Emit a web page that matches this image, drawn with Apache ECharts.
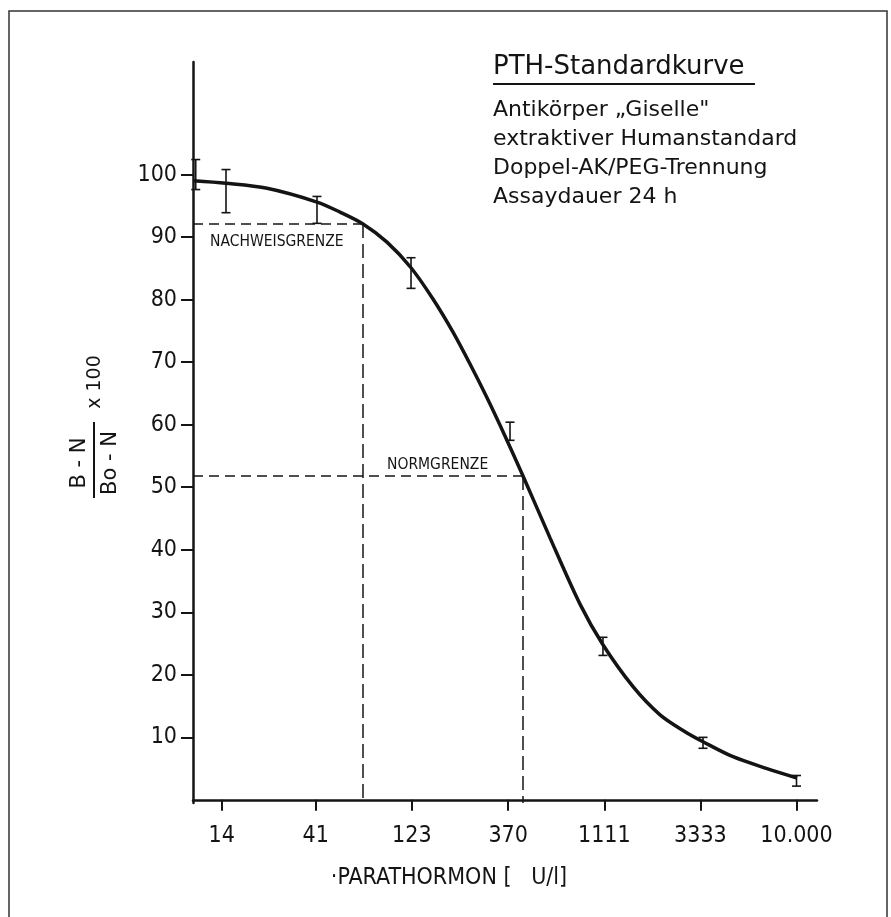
<!DOCTYPE html>
<html>
<head>
<meta charset="utf-8">
<script src="https://cdn.jsdelivr.net/npm/echarts@6/dist/echarts.min.js"></script>
<style>
  html, body { margin: 0; padding: 0; background: #fff; }
  #chart { width: 891px; height: 917px; }
</style>
</head>
<body>
<div id="chart"></div>
<script>
// Kurve - Konzentration in U/l und (B-N)/(Bo-N) x 100
var curveX = [10.1, 14.7, 23.5, 41.6, 54.1, 70.4, 92.6, 121.9, 156.7, 197, 239.3, 290.6, 356.9, 438.6, 597.2, 841.4, 1094, 1543, 2101, 2795, 3434, 4838, 7136, 10060];
var curveY = [99.0, 98.6, 97.8, 95.6, 94.0, 92.1, 89.2, 85.1, 80.1, 74.8, 69.7, 64.3, 58.2, 51.8, 41.9, 31.3, 24.8, 18.1, 13.6, 10.9, 9.3, 6.9, 5.0, 3.5];

// Fehlerbalken der Standards
var errX = [10.4, 14.7, 41.6, 121.9, 378, 1094, 3434, 10000];
var errLow = [97.6, 93.9, 92.2, 81.8, 57.5, 23.1, 8.25, 2.2];
var errHigh = [102.4, 100.8, 96.5, 86.7, 60.4, 26.0, 10.0, 3.9];

// Achsen
var xTickValues = [14, 41, 123, 370, 1111, 3333, 10000];
var xTickLabels = ['14', '41', '123', '370', '1111', '3333', '10.000'];
var yTickValues = [10, 20, 30, 40, 50, 60, 70, 80, 90, 100];

// Grenzen: [Konzentration, Prozent]
var nachweisgrenze = [70.4, 92.1];
var normgrenze = [438.6, 51.8];

var xMin = 10.08, xMax = 12640;
var yMin = -0.5, yMax = 118;

var ink = '#141414';
var narrow = "'DejaVu Sans Condensed', 'DejaVu Sans', sans-serif";
var wide = "'DejaVu Sans', sans-serif";

var curveData = curveX.map(function (x, i) { return [x, curveY[i]]; });
var errData = errX.map(function (x, i) { return [x, errLow[i], errHigh[i]]; });

var chart = echarts.init(document.getElementById('chart'));

function limitLines(p) {
	return [
		[{ coord: [xMin, p[1]], lineStyle: { type: [10, 6], width: 1.5, color: ink } }, { coord: [p[0], p[1]] }],
		[{ coord: [p[0], p[1]], lineStyle: { type: [14, 6], width: 1.5, color: ink } }, { coord: [p[0], yMin] }]
	];
}

var option = {
	backgroundColor: '#fff',
	animation: false,
	grid: { left: 193, right: 74, top: 62, bottom: 114 },
	xAxis: {
		type: 'log',
		logBase: 10,
		min: xMin,
		max: xMax,
		name: '·PARATHORMON [   U/l]',
		nameLocation: 'middle',
		nameGap: 64,
		nameTextStyle: { color: ink, fontSize: 23, fontFamily: narrow, padding: [0, 112, 0, 0] },
		axisLine: { lineStyle: { color: ink, width: 2.5 } },
		axisTick: { customValues: xTickValues, length: 11, lineStyle: { color: ink, width: 2 } },
		axisLabel: {
			customValues: xTickValues,
			margin: 22,
			color: ink,
			fontSize: 23,
			fontFamily: narrow,
			formatter: function (v) {
				var best = 0;
				for (var i = 1; i < xTickValues.length; i++) {
					if (Math.abs(Math.log(xTickValues[i] / v)) < Math.abs(Math.log(xTickValues[best] / v))) best = i;
				}
				return xTickLabels[best];
			}
		},
		splitLine: { show: false },
		minorTick: { show: false }
	},
	yAxis: {
		type: 'value',
		min: yMin,
		max: yMax,
		axisLine: { show: true, lineStyle: { color: ink, width: 2.5 } },
		axisTick: { show: true, customValues: yTickValues, length: 12, lineStyle: { color: ink, width: 2 } },
		axisLabel: { customValues: yTickValues, margin: 16, color: ink, fontSize: 23, fontFamily: narrow },
		splitLine: { show: false }
	},
	graphic: [
		// Rahmen
		{ type: 'rect', shape: { x: 9, y: 11, width: 878, height: 920 }, style: { fill: 'none', stroke: '#333', lineWidth: 1.5 }, silent: true },
		// Titelblock
		{ type: 'text', x: 493, y: 67, style: { text: 'PTH-Standardkurve', font: '26px ' + wide, fill: ink, verticalAlign: 'middle' } },
		{ type: 'line', shape: { x1: 493, y1: 84, x2: 755, y2: 84 }, style: { stroke: ink, lineWidth: 2 } },
		{ type: 'text', x: 493, y: 110, style: { text: 'Antikörper „Giselle"', font: '22px ' + wide, fill: ink, verticalAlign: 'middle' } },
		{ type: 'text', x: 493, y: 139, style: { text: 'extraktiver Humanstandard', font: '22px ' + wide, fill: ink, verticalAlign: 'middle' } },
		{ type: 'text', x: 493, y: 168, style: { text: 'Doppel-AK/PEG-Trennung', font: '22px ' + wide, fill: ink, verticalAlign: 'middle' } },
		{ type: 'text', x: 493, y: 197, style: { text: 'Assaydauer 24 h', font: '22px ' + wide, fill: ink, verticalAlign: 'middle' } },
		// Beschriftung der Grenzen
		{ type: 'text', x: 210, y: 242, style: { text: 'NACHWEISGRENZE', font: '15.5px ' + narrow, fill: ink, verticalAlign: 'middle' } },
		{ type: 'text', x: 387, y: 465, style: { text: 'NORMGRENZE', font: '15.5px ' + narrow, fill: ink, verticalAlign: 'middle' } },
		// y-Achsentitel als Bruch
		{ type: 'text', x: 80, y: 463, rotation: Math.PI / 2, style: { text: 'B - N', font: '21px ' + wide, fill: ink, align: 'center', verticalAlign: 'middle' } },
		{ type: 'line', shape: { x1: 94, y1: 422, x2: 94, y2: 498 }, style: { stroke: ink, lineWidth: 2 } },
		{ type: 'text', x: 111, y: 463, rotation: Math.PI / 2, style: { text: 'Bo - N', font: '21px ' + wide, fill: ink, align: 'center', verticalAlign: 'middle' } },
		{ type: 'text', x: 95, y: 382, rotation: Math.PI / 2, style: { text: 'x 100', font: '19px ' + wide, fill: ink, align: 'center', verticalAlign: 'middle' } }
	],
	series: [
		{
			type: 'line',
			data: curveData,
			smooth: 0.3,
			showSymbol: false,
			lineStyle: { color: ink, width: 3.5 },
			markLine: {
				silent: true,
				symbol: ['none', 'none'],
				label: { show: false },
				lineStyle: { color: ink },
				data: limitLines(nachweisgrenze).concat(limitLines(normgrenze))
			}
		},
		{
			type: 'custom',
			data: errData,
			renderItem: function (params, api) {
				var top = api.coord([api.value(0), api.value(2)]);
				var bot = api.coord([api.value(0), api.value(1)]);
				var w = 4.5;
				var st = { stroke: ink, lineWidth: 1.6 };
				return {
					type: 'group',
					children: [
						{ type: 'line', shape: { x1: top[0], y1: top[1], x2: bot[0], y2: bot[1] }, style: st },
						{ type: 'line', shape: { x1: top[0] - w, y1: top[1], x2: top[0] + w, y2: top[1] }, style: st },
						{ type: 'line', shape: { x1: bot[0] - w, y1: bot[1], x2: bot[0] + w, y2: bot[1] }, style: st }
					]
				};
			}
		}
	]
};

chart.setOption(option);
</script>
</body>
</html>
